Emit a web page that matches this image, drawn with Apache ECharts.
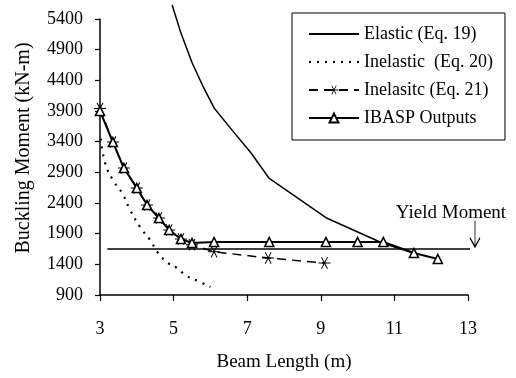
<!DOCTYPE html>
<html>
<head>
<meta charset="utf-8">
<script src="https://cdn.jsdelivr.net/npm/echarts@6/dist/echarts.min.js"></script>
<style>html,body{margin:0;padding:0;background:#fff;}#c{width:516px;height:378px;}</style>
</head>
<body>
<div id="c"></div>
<script>
var xTicks = [3, 5, 7, 9, 11, 13];
var yTicks = [900, 1400, 1900, 2400, 2900, 3400, 3900, 4400, 4900, 5400];
var elastic = [[4.96,5627],[5.2,5170],[5.5,4690],[5.8,4300],[6.1,3950],[6.6,3580],[7.1,3220],[7.6,2800],[9.14,2160],[10.7,1740],[11.53,1585]];
var inelastic20 = [[3.02,3450],[3.14,3052],[3.35,2774],[3.6,2563],[3.82,2286],[4.09,2008],[4.36,1797],[4.58,1585],[4.85,1422],[5.09,1340],[5.36,1210],[5.72,1112],[6.0,1030]];
var inelastic21 = [[3.0,3940],[3.35,3394],[3.65,2970],[4.0,2644],[4.28,2367],[4.6,2155],[4.88,1960],[5.2,1813],[5.5,1720],[6.1,1605],[7.57,1503],[9.1,1422]];
var ibasp = [[3.0,3900],[3.35,3394],[3.65,2970],[4.0,2644],[4.28,2367],[4.6,2155],[4.88,1960],[5.2,1813],[5.5,1748],[6.1,1764],[7.6,1764],[9.14,1764],[10.0,1764],[10.7,1764],[11.53,1585],[12.18,1487]];
var yieldLine = [[3.2,1650],[13.65,1650]];
var yieldArrowAt = [13, 1685];
var names = ['Elastic (Eq. 19)', 'Inelastic  (Eq. 20)', 'Inelasitc (Eq. 21)', 'IBASP Outputs'];

var FONT = 'Liberation Serif';
var starPath = 'path://M0 9.2L20 9.2L20 10.8L0 10.8Z M5.7 0.9L15.7 18.2L14.3 19.1L4.3 1.8Z M15.7 1.8L5.7 19.1L4.3 18.2L14.3 0.9Z';
var chart = echarts.init(document.getElementById('c'));
chart.setOption({
  animation: false,
  backgroundColor: '#fff',
  textStyle: {fontFamily: FONT, color: '#000'},
  grid: {left: 100, right: 48, top: 19, bottom: 83},
  legend: {
    orient: 'vertical', left: 292, top: 13,
    data: [
      {name: names[0], itemStyle: {opacity: 0}},
      {name: names[1], itemStyle: {opacity: 0}},
      {name: names[2]},
      {name: names[3]}
    ],
    itemWidth: 50, itemHeight: 11, itemGap: 10,
    padding: [12, 12, 13, 16],
    borderColor: '#000', borderWidth: 1,
    textStyle: {fontFamily: FONT, fontSize: 18, color: '#000'}
  },
  xAxis: {
    type: 'value', min: xTicks[0], max: xTicks[xTicks.length-1], interval: 2,
    name: 'Beam Length (m)', nameLocation: 'middle', nameGap: 58,
    nameTextStyle: {fontFamily: FONT, fontSize: 19, color: '#000'},
    axisLine: {show: true, onZero: false, lineStyle: {color: '#000', width: 1.5}},
    axisTick: {show: true, inside: false, length: 6, lineStyle: {color: '#000', width: 1.2}},
    axisLabel: {margin: 25, fontFamily: FONT, fontSize: 18, color: '#000'},
    splitLine: {show: false}
  },
  yAxis: {
    type: 'value', min: yTicks[0], max: yTicks[yTicks.length-1], interval: 500,
    name: 'Buckling Moment (kN-m)', nameLocation: 'middle', nameGap: 66,
    nameTextStyle: {fontFamily: FONT, fontSize: 20, color: '#000', padding: [0, 0, 0, 18]},
    axisLine: {show: true, lineStyle: {color: '#000', width: 1.5}},
    axisTick: {show: true, length: 5, lineStyle: {color: '#000', width: 1.2}},
    axisLabel: {margin: 17, fontFamily: FONT, fontSize: 18, color: '#000',
                formatter: function (v) { return String(v); }},
    splitLine: {show: false}
  },
  series: [
    {name: names[0], type: 'line', data: elastic, symbol: 'none', clip: false,
     lineStyle: {color: '#000', width: 1.5}, itemStyle: {color: '#000'}},
    {name: names[1], type: 'line', data: inelastic20, symbol: 'none', smooth: true,
     lineStyle: {color: '#000', width: 2.2, type: [2, 6]}, itemStyle: {color: '#000'}},
    {name: names[2], type: 'line', data: inelastic21, symbol: starPath, symbolSize: 12,
     lineStyle: {color: '#000', width: 1.5, type: [9, 6]}, itemStyle: {color: '#000'}},
    {name: names[3], type: 'line', data: ibasp, symbol: 'triangle', symbolSize: 9,
     lineStyle: {color: '#000', width: 2}, itemStyle: {color: '#fff', borderColor: '#000', borderWidth: 1.6}},
    {name: 'Yield', type: 'line', data: yieldLine, symbol: 'none', clip: false,
     lineStyle: {color: '#000', width: 1.5}, silent: true,
     markPoint: {
       symbol: 'path://M5 0L5 26M0.5 17L5 26L9.5 17', symbolSize: [10, 26], symbolOffset: [7, '-50%'],
       itemStyle: {color: 'rgba(0,0,0,0)', borderColor: '#000', borderWidth: 1.3},
       label: {show: true, position: 'top', formatter: 'Yield Moment', distance: 3, offset: [-24, 6],
               fontFamily: FONT, fontSize: 19, color: '#000'},
       data: [{coord: yieldArrowAt}]
     }}
  ]
});
</script>
</body>
</html>
